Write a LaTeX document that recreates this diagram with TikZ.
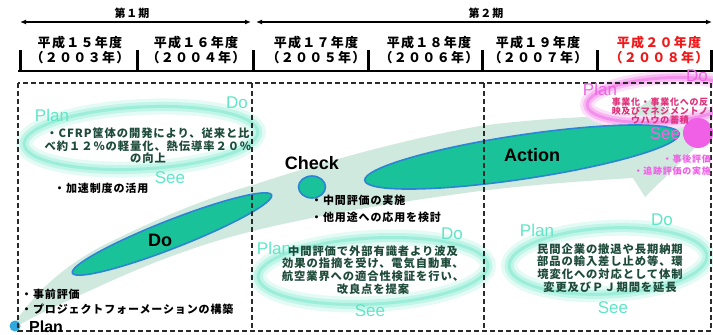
\documentclass[tikz,border=0pt]{standalone}
\usepackage{fontspec}
\setmainfont{Liberation Sans}
\newfontfamily\jpf[LetterSpace=8]{Noto Sans CJK JP}
\newfontfamily\jpyf[LetterSpace=10]{Noto Sans CJK JP}
\usetikzlibrary{shapes.geometric,arrows.meta}
\definecolor{bandc}{HTML}{D0E9DF}
\definecolor{tealf}{HTML}{19C298}
\definecolor{blueb}{HTML}{2C84D4}
\definecolor{cyanl}{HTML}{5FE6C6}
\definecolor{glowA}{HTML}{E4FBF5}
\definecolor{glowB}{HTML}{C0F5E8}
\definecolor{glowC}{HTML}{9CEEDA}
\definecolor{pinkA}{HTML}{FCE0FA}
\definecolor{pinkB}{HTML}{F8B8F2}
\definecolor{pinkC}{HTML}{F290EC}
\definecolor{pinkl}{HTML}{EE66E0}
\definecolor{pinkt}{HTML}{E0307A}
\definecolor{magb}{HTML}{F060E6}
\definecolor{darkt}{HTML}{1E4A3A}
\definecolor{yred}{HTML}{F01818}
\definecolor{dashc}{HTML}{2A2A2A}
\definecolor{planc}{HTML}{2FA8DC}
\begin{document}
\begin{tikzpicture}[x=1pt,y=-1pt,
 ring/.style={ellipse, inner sep=0, draw=glowC, line width=3pt,
   preaction={draw=glowA, line width=16pt},
   preaction={draw=glowB, line width=9pt}},
 pring/.style={ellipse, inner sep=0, draw=pinkC, line width=3pt,
   preaction={draw=pinkA, line width=14pt},
   preaction={draw=pinkB, line width=8pt}},
 leaf/.style={ellipse, inner sep=0, fill=tealf, draw=blueb, line width=1.6pt},
 cyc/.style={font=\fontsize{17}{17}\selectfont, text=cyanl, inner sep=0},
 pcyc/.style={font=\fontsize{17}{17}\selectfont, text=pinkl, inner sep=0},
 big/.style={font=\fontsize{18}{18}\selectfont\bfseries, inner sep=0},
 bul/.style={font=\jpf\bfseries\fontsize{11}{12}\selectfont, inner sep=0, anchor=west},
 ellt/.style={font=\jpf\bfseries\fontsize{11.3}{12.6}\selectfont, text=darkt, align=center, inner sep=0},
 yr/.style={font=\jpyf\bfseries\fontsize{13}{13}\selectfont, inner sep=0},
 per/.style={font=\jpf\bfseries\fontsize{11}{12}\selectfont, inner sep=0},
 dframe/.style={draw=dashc, line width=1.2pt, dash pattern=on 5pt off 3pt},
 axisln/.style={line width=2pt},
 tickln/.style={line width=3pt},
 perarrow/.style={line width=1.2pt, {Latex[length=6pt,width=5pt]}-{Latex[length=6pt,width=5pt]}},
]
\useasboundingbox (0,0) rectangle (713,335);
\begin{scope}
\clip (0,0) rectangle (713,335);
% glow rings
\node[ring, minimum width=234pt, minimum height=62pt, rotate=3] (ring1) at (141,138) {};
\node[ring, minimum width=230pt, minimum height=66pt, rotate=3] (ring2) at (373,271) {};
\node[ring, minimum width=198pt, minimum height=66pt, rotate=3] (ring3) at (608,261) {};
% band arrow
\fill[bandc] (14,323) .. controls (35,295) and (55,272) .. (100,247)
  .. controls (150,222) and (200,200) .. (253,185)
  .. controls (320,163) and (400,140) .. (480,126)
  .. controls (540,118) and (600,116) .. (628,116)
  -- (652,98) -- (703,140) -- (645,197) -- (633,178)
  .. controls (580,181) and (520,186) .. (480,191)
  .. controls (420,199) and (330,212) .. (253,231)
  .. controls (200,244) and (150,263) .. (100,286)
  .. controls (60,304) and (30,318) .. (14,328) -- cycle;
% pink ring
\node[pring, minimum width=150pt, minimum height=44pt, rotate=4] (ring4) at (662,100) {};
% teal shapes
\node[leaf, minimum width=214pt, minimum height=28pt, rotate=21.4] (doE) at (172,234) {};
\node[leaf, minimum width=27pt, minimum height=22pt] (chkE) at (312,187) {};
\node[leaf, minimum width=318pt, minimum height=44pt, rotate=8.5] (actE) at (522,157) {};
\node[circle, fill=planc, minimum size=11pt, inner sep=0] (planC) at (15,326) {};
\node[circle, fill=magb, minimum size=30pt, inner sep=0] (pinkC) at (698,133) {};
% dashed frame
\coordinate (f1) at (18,83);
\coordinate (f3) at (711,331);
\coordinate (v1t) at (252,83);
\coordinate (v1b) at (252,331);
\coordinate (v2t) at (484,83);
\coordinate (v2b) at (484,331);
\draw[dframe] (f1) rectangle (f3);
\draw[dframe] (v1t) -- (v1b);
\draw[dframe] (v2t) -- (v2b);
% header
\node[per] (p1) at (132,13) {第１期};
\node[per] (p2) at (486,13) {第２期};
\coordinate (a1) at (20,22);
\coordinate (a2) at (251,22);
\coordinate (a3) at (256,22);
\coordinate (a4) at (712,22);
\draw[perarrow] (a1) -- (a2);
\draw[perarrow] (a3) -- (a4);
\coordinate (ax1) at (18,71);
\coordinate (ax2) at (713,71);
\draw[axisln] (ax1) -- (ax2);
\foreach \x [count=\i] in {20,137,253,368,482,597,711} {
  \coordinate (tt\i) at (\x,50);
  \coordinate (tb\i) at (\x,72);
  \draw[tickln] (tt\i) -- (tb\i);
}
\node[yr] (y1a) at (80,43) {平成１５年度};
\node[yr] (y1b) at (80,58) {（２００３年）};
\node[yr] (y2a) at (196,43) {平成１６年度};
\node[yr] (y2b) at (196,58) {（２００４年）};
\node[yr] (y3a) at (316,43) {平成１７年度};
\node[yr] (y3b) at (316,58) {（２００５年）};
\node[yr] (y4a) at (429,43) {平成１８年度};
\node[yr] (y4b) at (429,58) {（２００６年）};
\node[yr] (y5a) at (538,43) {平成１９年度};
\node[yr] (y5b) at (538,58) {（２００７年）};
\node[yr, text=yred] (y6a) at (659,43) {平成２０年度};
\node[yr, text=yred] (y6b) at (659,58) {（２００８年）};
% big labels
\node[big] (doL) at (160,240) {Do};
\node[big] (chkL) at (312,163) {Check};
\node[big] (actL) at (532,155) {Action};
\node[font=\fontsize{16}{16}\selectfont\bfseries, inner sep=0, anchor=west] (planL) at (29,327) {Plan};
% cycle labels
\node[cyc] (c1p) at (52,115) {Plan};
\node[cyc] (c1d) at (237,103) {Do};
\node[cyc] (c1s) at (170,178) {See};
\node[cyc] (c2p) at (274,248) {Plan};
\node[cyc] (c2d) at (452,234) {Do};
\node[cyc] (c2s) at (370,311) {See};
\node[cyc] (c3p) at (537,230) {Plan};
\node[cyc] (c3d) at (662,220) {Do};
\node[cyc] (c3s) at (613,308) {See};
\node[pcyc] (c4p) at (600,89) {Plan};
\node[pcyc] (c4d) at (697,76) {Do};
\node[pcyc] (c4s) at (665,134) {See};
% ellipse texts
\node[ellt] (e1) at (148,146) {・CFRP筐体の開発により、従来と比\\べ約１２％の軽量化、熱伝導率２０％\\の向上};
\node[ellt] (e2) at (373,270) {中間評価で外部有識者より波及\\効果の指摘を受け、電気自動車、\\航空業界への適合性検証を行い、\\改良点を提案};
\node[ellt] (e3) at (610,268) {民間企業の撤退や長期納期\\部品の輸入差し止め等、環\\境変化への対応として体制\\変更及びＰＪ期間を延長};
\node[ellt, text=pinkt, font=\jpf\bfseries\fontsize{9}{9.2}\selectfont] (e4) at (660,111) {事業化・事業化への反\\映及びマネジメントノ\\ウハウの蓄積};
% bullets
\node[bul] (b1) at (54,188) {・加速制度の活用};
\node[bul] (b2) at (311,200) {・中間評価の実施};
\node[bul] (b3) at (311,217) {・他用途への応用を検討};
\node[bul] (b4) at (21,294) {・事前評価};
\node[bul] (b5) at (21,309) {・プロジェクトフォーメーションの構築};
\node[bul, text=magb, font=\jpf\bfseries\fontsize{9}{10}\selectfont, anchor=east] (b6) at (711,159) {・事後評価};
\node[bul, text=magb, font=\jpf\bfseries\fontsize{9}{10}\selectfont, anchor=east] (b7) at (711,171) {・追跡評価の実施};
\end{scope}
\end{tikzpicture}
\end{document}
